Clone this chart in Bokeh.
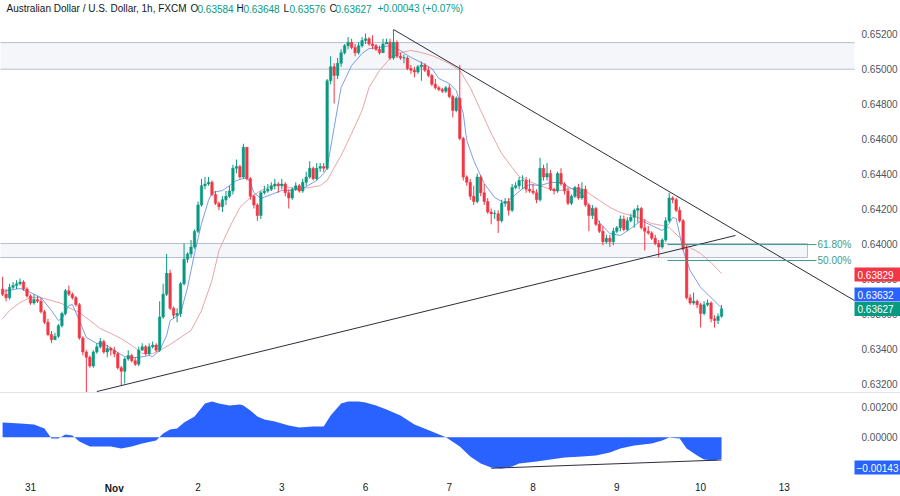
import numpy as np
from bokeh.plotting import figure
from bokeh.models import Range1d, FixedTicker, NumeralTickFormatter, ColumnDataSource, Label, Div, LinearAxis
from bokeh.layouts import column
from bokeh.embed import file_html
from bokeh.resources import INLINE
from bokeh.core.properties import value

# ---------------- data (AUD/USD 1h, FXCM) ----------------
bar_first = -8            # first bar, in trading hours from 31 Oct 00:00
first_open = 0.6374
closes = [0.6371, 0.6369, 0.6375, 0.6376, 0.6377, 0.6378, 0.6374, 0.6370,
          0.6366, 0.6368, 0.6367, 0.6361, 0.6355, 0.6348, 0.6345, 0.6347, 0.6353, 0.6360,
          0.6373, 0.6371, 0.6369, 0.6365, 0.6346, 0.6338, 0.6335, 0.6330, 0.6338, 0.6341,
          0.6344, 0.6338, 0.6340, 0.6339, 0.6337, 0.6329, 0.6327, 0.6334, 0.6336, 0.6333,
          0.6331, 0.6339, 0.6341, 0.6337, 0.6341, 0.6342, 0.6339, 0.6358, 0.6371, 0.6383,
          0.6363, 0.6359, 0.6360, 0.6377, 0.6391, 0.6394, 0.6398, 0.6407, 0.6422, 0.6433,
          0.6434, 0.6435, 0.6428, 0.6423, 0.6421, 0.6425, 0.6427, 0.6430, 0.6443, 0.6444,
          0.6438, 0.6455, 0.6437, 0.6427, 0.6422, 0.6416, 0.6429, 0.6430, 0.6431, 0.6433,
          0.6434, 0.6433, 0.6434, 0.6429, 0.6426, 0.6431, 0.6433, 0.6430, 0.6435, 0.6438,
          0.6443, 0.6437, 0.6443, 0.6444, 0.6443, 0.6493, 0.6501, 0.6496, 0.6503, 0.6509,
          0.6513, 0.6515, 0.6512, 0.6509, 0.6513, 0.6516, 0.6517, 0.6514, 0.6513, 0.6511,
          0.6509, 0.6514, 0.6515, 0.6506, 0.6515, 0.6507, 0.6506, 0.6506, 0.6500, 0.6499,
          0.6498, 0.6501, 0.6502, 0.6499, 0.6496, 0.6491, 0.6489, 0.6488, 0.6487, 0.6489,
          0.6484, 0.6476, 0.6483, 0.6460, 0.6438, 0.6435, 0.6427, 0.6424, 0.6438, 0.6429,
          0.6424, 0.6418, 0.6417, 0.6417, 0.6413, 0.6423, 0.6424, 0.6419, 0.6432, 0.6433,
          0.6436, 0.6436, 0.6431, 0.6430, 0.6429, 0.6425, 0.6443, 0.6438, 0.6440, 0.6431,
          0.6430, 0.6440, 0.6434, 0.6430, 0.6423, 0.6427, 0.6432, 0.6426, 0.6431, 0.6422,
          0.6416, 0.6420, 0.6411, 0.6407, 0.6401, 0.6403, 0.6401, 0.6407, 0.6409, 0.6414,
          0.6408, 0.6413, 0.6415, 0.6419, 0.6420, 0.6409, 0.6407, 0.6406, 0.6403, 0.6400,
          0.6398, 0.6402, 0.6413, 0.6426, 0.6425, 0.6419, 0.6413, 0.6397, 0.6369, 0.6366,
          0.6367, 0.6365, 0.6360, 0.6365, 0.6366, 0.6357, 0.6356, 0.63584, 0.63627]
highs = [0.6381, 0.6374, 0.6377, 0.6378, 0.6379, 0.6380, 0.6379, 0.6375,
         0.6371, 0.6371, 0.6370, 0.6369, 0.6362, 0.6357, 0.6350, 0.6349, 0.6354, 0.6361,
         0.6374, 0.6376, 0.6372, 0.6370, 0.6366, 0.6347, 0.6339, 0.6336, 0.6339, 0.6343,
         0.6346, 0.6345, 0.6342, 0.6341, 0.6341, 0.6338, 0.6330, 0.6335, 0.6339, 0.6337,
         0.6335, 0.6341, 0.6343, 0.6342, 0.6343, 0.6344, 0.6343, 0.6367, 0.6377, 0.6394,
         0.6385, 0.6364, 0.6363, 0.6378, 0.6400, 0.6395, 0.6402, 0.6408, 0.6424, 0.6437,
         0.6438, 0.6438, 0.6436, 0.6430, 0.6424, 0.6427, 0.6430, 0.6433, 0.6445, 0.6448,
         0.6445, 0.6457, 0.6455, 0.6438, 0.6428, 0.6423, 0.6430, 0.6433, 0.6434, 0.6435,
         0.6437, 0.6435, 0.6437, 0.6435, 0.6431, 0.6432, 0.6435, 0.6434, 0.6437, 0.6441,
         0.6447, 0.6444, 0.6446, 0.6446, 0.6446, 0.6494, 0.6507, 0.6503, 0.6506, 0.6511,
         0.6514, 0.6518, 0.6517, 0.6514, 0.6515, 0.6518, 0.6520, 0.6518, 0.6519, 0.6514,
         0.6513, 0.6517, 0.6517, 0.6517, 0.6522, 0.6516, 0.6509, 0.6508, 0.6507, 0.6502,
         0.6501, 0.6502, 0.6504, 0.6503, 0.6501, 0.6497, 0.6494, 0.6490, 0.6489, 0.6490,
         0.6491, 0.6485, 0.6484, 0.6502, 0.6461, 0.6439, 0.6437, 0.6433, 0.6440, 0.6439,
         0.6434, 0.6426, 0.6420, 0.6419, 0.6419, 0.6425, 0.6426, 0.6426, 0.6434, 0.6435,
         0.6438, 0.6439, 0.6438, 0.6437, 0.6434, 0.6431, 0.6449, 0.6445, 0.6446, 0.6442,
         0.6432, 0.6441, 0.6443, 0.6435, 0.6432, 0.6428, 0.6433, 0.6434, 0.6435, 0.6433,
         0.6423, 0.6422, 0.6421, 0.6413, 0.6410, 0.6405, 0.6405, 0.6409, 0.6410, 0.6416,
         0.6416, 0.6415, 0.6417, 0.6420, 0.6422, 0.6421, 0.6414, 0.6410, 0.6407, 0.6405,
         0.6402, 0.6403, 0.6415, 0.6429, 0.6427, 0.6426, 0.6421, 0.6414, 0.6399, 0.6371,
         0.6372, 0.6368, 0.6366, 0.6367, 0.6368, 0.6367, 0.6359, 0.6360, 0.63648]
lows = [0.6370, 0.6367, 0.6368, 0.6374, 0.6374, 0.6376, 0.6373, 0.6369,
        0.6365, 0.6365, 0.6366, 0.6360, 0.6354, 0.6347, 0.6343, 0.6345, 0.6346, 0.6352,
        0.6359, 0.6370, 0.6368, 0.6364, 0.6345, 0.6336, 0.6315, 0.6329, 0.6329, 0.6337,
        0.6340, 0.6337, 0.6335, 0.6336, 0.6335, 0.6328, 0.6319, 0.6320, 0.6333, 0.6332,
        0.6330, 0.6330, 0.6339, 0.6336, 0.6336, 0.6340, 0.6338, 0.6338, 0.6357, 0.6370,
        0.6362, 0.6357, 0.6355, 0.6358, 0.6376, 0.6389, 0.6392, 0.6397, 0.6406, 0.6421,
        0.6431, 0.6433, 0.6427, 0.6422, 0.6419, 0.6418, 0.6422, 0.6426, 0.6428, 0.6440,
        0.6437, 0.6437, 0.6436, 0.6425, 0.6420, 0.6413, 0.6414, 0.6428, 0.6429, 0.6430,
        0.6431, 0.6429, 0.6431, 0.6427, 0.6420, 0.6425, 0.6430, 0.6429, 0.6429, 0.6433,
        0.6437, 0.6436, 0.6436, 0.6441, 0.6441, 0.6442, 0.6491, 0.6480, 0.6494, 0.6501,
        0.6508, 0.6511, 0.6511, 0.6507, 0.6508, 0.6512, 0.6514, 0.6513, 0.6511, 0.6510,
        0.6508, 0.6509, 0.6514, 0.6505, 0.6505, 0.6506, 0.6505, 0.6503, 0.6499, 0.6497,
        0.6495, 0.6497, 0.6493, 0.6498, 0.6495, 0.6490, 0.6488, 0.6487, 0.6486, 0.6486,
        0.6483, 0.6472, 0.6475, 0.6459, 0.6436, 0.6433, 0.6425, 0.6422, 0.6423, 0.6427,
        0.6422, 0.6417, 0.6411, 0.6414, 0.6406, 0.6412, 0.6421, 0.6416, 0.6418, 0.6431,
        0.6431, 0.6431, 0.6429, 0.6429, 0.6428, 0.6423, 0.6424, 0.6436, 0.6436, 0.6430,
        0.6428, 0.6429, 0.6433, 0.6428, 0.6422, 0.6422, 0.6426, 0.6425, 0.6425, 0.6421,
        0.6407, 0.6414, 0.6410, 0.6406, 0.6399, 0.6400, 0.6398, 0.6399, 0.6406, 0.6407,
        0.6407, 0.6407, 0.6412, 0.6409, 0.6412, 0.6408, 0.6396, 0.6405, 0.6402, 0.6399,
        0.6392, 0.6397, 0.6401, 0.6412, 0.6423, 0.6418, 0.6412, 0.6396, 0.6368, 0.6365,
        0.6365, 0.6363, 0.6352, 0.6359, 0.6364, 0.6355, 0.6352, 0.6354, 0.63576]

fast_ma_idx = [-8, -3, 0, 3, 6, 8, 9, 11, 12, 14, 16, 19, 20, 22, 24, 27, 29, 31, 34, 35,
               37, 39, 40, 43, 45, 47, 49, 51, 52, 55, 57, 59, 62, 63, 64, 66, 69, 72, 74, 78,
               82, 84, 85, 87, 89, 92, 95, 97, 100, 103, 106, 109, 112, 115, 117, 120, 122, 124, 125, 127,
               130, 133, 136, 138, 141, 143, 146, 149, 152, 155, 158, 160, 163, 166, 169, 172, 175, 178, 181, 183,
               184, 185, 187, 189, 192, 195, 198]
fast_ma = [0.63726, 0.63743, 0.6372, 0.63691, 0.63617, 0.6356, 0.63571, 0.63646, 0.63651, 0.6356,
           0.63463, 0.63429, 0.63429, 0.63417, 0.63389, 0.63354, 0.63349, 0.63349, 0.6336, 0.63354,
           0.63389, 0.63474, 0.6356, 0.636, 0.63749, 0.63943, 0.64114, 0.64246, 0.64291, 0.64303,
           0.64331, 0.6436, 0.64377, 0.64349, 0.64291, 0.64257, 0.6428, 0.64303, 0.64303, 0.64314,
           0.6436, 0.644, 0.64434, 0.64663, 0.64891, 0.65017, 0.65086, 0.65114, 0.6512, 0.65131,
           0.65103, 0.65063, 0.65034, 0.6500, 0.64943, 0.64914, 0.64874, 0.64743, 0.64589, 0.64474,
           0.64343, 0.64263, 0.64229, 0.64263, 0.64314, 0.64337, 0.64331, 0.64349, 0.64349, 0.64314,
           0.64286, 0.64217, 0.6412, 0.64057, 0.64046, 0.64086, 0.64131, 0.64103, 0.64074, 0.64114,
           0.64149, 0.64143, 0.6396, 0.63846, 0.63749, 0.63691, 0.63632]
slow_ma_idx = [-8, -6, -3, 0, 3, 6, 9, 11, 14, 17, 20, 23, 26, 29, 31, 32, 35, 37, 40, 43,
               46, 49, 52, 54, 57, 60, 63, 66, 69, 72, 74, 77, 80, 83, 85, 87, 89, 92, 95, 97,
               100, 103, 106, 109, 112, 115, 117, 120, 123, 126, 129, 132, 135, 138, 140, 143, 146, 149, 152, 155,
               158, 160, 163, 166, 169, 172, 175, 178, 181, 183, 186, 189, 192, 195, 198]
slow_ma = [0.63571, 0.63617, 0.63663, 0.63691, 0.63691, 0.63674, 0.63657, 0.63634, 0.63606, 0.6356,
           0.63514, 0.63486, 0.63457, 0.63417, 0.63389, 0.63371, 0.63371, 0.63389, 0.63423, 0.63463,
           0.63503, 0.63617, 0.63789, 0.6396, 0.64091, 0.64206, 0.64263, 0.64303, 0.64326, 0.64337,
           0.6432, 0.64314, 0.6432, 0.64331, 0.6436, 0.64434, 0.64503, 0.64629, 0.6476, 0.64891,
           0.64989, 0.65057, 0.65091, 0.65103, 0.65091, 0.65074, 0.65057, 0.65029, 0.64989, 0.64891,
           0.6476, 0.64629, 0.64514, 0.64434, 0.64383, 0.64354, 0.64331, 0.64309, 0.64303, 0.64314,
           0.64314, 0.64286, 0.64246, 0.64206, 0.64177, 0.6416, 0.64143, 0.64114, 0.64103, 0.64091,
           0.64034, 0.63977, 0.63943, 0.63891, 0.63829]
osc_idx = [-8, -3, 1, 4, 6, 8, 10, 12, 14, 17, 23, 26, 29, 32, 36, 38, 40, 42, 44, 47,
           50, 52, 54, 57, 60, 61, 63, 65, 67, 70, 74, 77, 81, 84, 86, 89, 91, 94, 96, 99,
           102, 106, 110, 115, 119, 120, 123, 126, 129, 132, 135, 138, 140, 145, 149, 153, 158, 162, 166, 169,
           173, 178, 181, 183, 186, 188, 191, 193, 196, 198]
osc = [0.00098, 0.00091, 0.00085, 0.00058, -0.00009, -0.00009, 0.00018, 0.00011, -0.00029, -0.00062,
       -0.00062, -0.00075, -0.00062, -0.00042, -0.00022, 0.00025, 0.00051, 0.00058, 0.00098, 0.00138,
       0.00225, 0.00238, 0.00225, 0.00211, 0.00218, 0.00211, 0.00178, 0.00138, 0.00118, 0.00105,
       0.00078, 0.00065, 0.00071, 0.00071, 0.00145, 0.00225, 0.00238, 0.00238, 0.00231, 0.00211,
       0.00185, 0.00145, 0.00085, 0.00038, 0.0, -0.00015, -0.00062, -0.00129, -0.00175, -0.00202,
       -0.00209, -0.00195, -0.00175, -0.00162, -0.00149, -0.00135, -0.00129, -0.00122, -0.00102, -0.00075,
       -0.00055, -0.00042, -0.00022, -0.00002, -0.00009, -0.00075, -0.00122, -0.00149, -0.00155, -0.00143]

day_ticks = [0, 24, 48, 72, 96, 120, 144, 168, 192, 216]
day_labels = ["31", "Nov", "2", "3", "6", "7", "8", "9", "10", "13"]
month_start = "Nov"
price_ticks = [0.632, 0.634, 0.636, 0.638, 0.640, 0.642, 0.644, 0.646, 0.648, 0.650, 0.652, 0.654]
osc_ticks = [-0.002, 0.0, 0.002]

zone_upper = (0.64996, 0.65148)
zone_lower = (0.63920, 0.64000)
fib_levels = [0.63994, 0.63903]
fib_labels = ["61.80%", "50.00%"]
fib_x = [182.5, 225.2]
trend_down_x = [104, 236.1]
trend_down_y = [0.65223, 0.63674]
trend_up_x = [19, 202]
trend_up_y = [0.63154, 0.64046]
osc_line_x = [132, 198]
osc_line_y = [-0.00207, -0.00152]

# ---------------- geometry / style ----------------
W = 900
PX_BAR = 3.49
X0 = -8.6
X1 = X0 + W / PX_BAR
PLOT_RIGHT_PX = 854          # right edge of the drawing area (price scale to the right)
TOP_H = 392
PX_PRICE = 17500.0
Y_TOP = 0.653886
Y_BOT = Y_TOP - TOP_H / PX_PRICE
BOT_H = 103                  # oscillator panel incl. date scale
PX_OSC = 15000.0
O_TOP = 0.002913
O_BOT = O_TOP - BOT_H / PX_OSC
O_AXIS = O_TOP - 79 / PX_OSC  # where the date scale sits

UP = "#089981"
DN = "#f23645"
BLUE = "#2962ff"
DARK = "#131722"
AXIS_TXT = "#50535e"
ZONE_FILL = "#a9b9d9"
ZONE_LINE = "#b4bfd2"
FONT = "Liberation Sans"
TAG_PAD = dict(left=3, right=12, top=3, bottom=3)


def px_x(px):
    return X0 + px / PX_BAR


def px_y(py):
    return Y_TOP - py / PX_PRICE


X_EDGE = px_x(PLOT_RIGHT_PX)

n = len(closes)
idx = np.arange(bar_first, bar_first + n)
opens = [first_open] + closes[:-1]
o = np.array(opens)
c = np.array(closes)
up = c >= o
colors = [UP if u else DN for u in up]
body_top = np.maximum(o, c)
body_bot = np.minimum(o, c)
body_top = np.where(body_top - body_bot < 0.00002, body_bot + 0.00002, body_top)
src = ColumnDataSource(dict(x=idx, o=o, c=c, h=highs, l=lows, top=body_top, bot=body_bot, col=colors))


def style_axis(ax, size="10px", color=AXIS_TXT, standoff=7):
    ax.axis_line_color = None
    ax.major_tick_line_color = None
    ax.minor_tick_line_color = None
    ax.major_tick_in = 0
    ax.major_tick_out = 0
    ax.major_label_standoff = standoff
    ax.major_label_text_font = FONT
    ax.major_label_text_font_size = size
    ax.major_label_text_color = color


# ---------------- price panel ----------------
p = figure(width=W, height=TOP_H, x_range=Range1d(X0, X1), y_range=Range1d(Y_BOT, Y_TOP),
           output_backend="svg", toolbar_location=None,
           x_axis_location=None, y_axis_location=None,
           min_border=0)
p.outline_line_color = None
p.grid.visible = False
p.background_fill_color = "white"
p.border_fill_color = "white"

ya = LinearAxis(fixed_location=X_EDGE, ticker=FixedTicker(ticks=price_ticks),
                formatter=NumeralTickFormatter(format="0.00000"))
style_axis(ya)
p.add_layout(ya, "right")

# zones: upper one runs into the price scale (open on the right), lower one is a closed box
p.quad(left=[X0 - 2], right=[X_EDGE], bottom=[zone_upper[0]], top=[zone_upper[1]],
       fill_color=ZONE_FILL, fill_alpha=0.12, line_color=None)
for lvl in zone_upper:
    p.line([X0 - 2, X_EDGE], [lvl, lvl], line_color=ZONE_LINE, line_width=1)
p.quad(left=[X0 - 2], right=[px_x(807)], bottom=[zone_lower[0]], top=[zone_lower[1]],
       fill_color=ZONE_FILL, fill_alpha=0.12, line_color=ZONE_LINE, line_width=1)

# moving averages
p.line(slow_ma_idx, slow_ma, line_color="#e8999f", line_width=1, line_alpha=0.9)
p.line(fast_ma_idx, fast_ma, line_color="#6b94e6", line_width=1, line_alpha=0.9)

# candles
p.segment(x0="x", y0="l", x1="x", y1="h", line_color="col", line_width=1, source=src)
p.vbar(x="x", width=0.72, top="top", bottom="bot", fill_color="col", line_color="col",
       line_width=0.5, source=src)

# trend lines
p.line(trend_down_x, trend_down_y, line_color="#2a2e39", line_width=1)
p.line(trend_up_x, trend_up_y, line_color="#2a2e39", line_width=1)

# fibonacci levels
for lvl, lab in zip(fib_levels, fib_labels):
    p.line(fib_x, [lvl, lvl], line_color="#3d9d8d", line_width=1)
    p.text(x=[px_x(817)], y=[lvl], text=[lab], text_font=value(FONT), text_font_size="10px",
           text_color="#3d9d8d", text_baseline="middle", text_align="left")

# header
last_o, last_h, last_l, last_c = opens[-1], highs[-1], lows[-1], closes[-1]
chg = last_c - last_o
pct = chg / last_o * 100
segments = [
    (6, "Australian Dollar / U.S. Dollar, 1h, FXCM", DARK),
    (190, "O", DARK), (197, f"{last_o:.5f}", UP),
    (236, "H", DARK), (243, f"{last_h:.5f}", UP),
    (283, "L", DARK), (289, f"{last_l:.5f}", UP),
    (329, "C", DARK), (335, f"{last_c:.5f}", UP),
    (377, f"{chg:+.5f} ({pct:+.2f}%)", UP),
]
for px, txt, col in segments:
    p.text(x=[px_x(px)], y=[px_y(8)], text=[txt], text_font=value(FONT), text_font_size="10px",
           text_color=col, text_baseline="middle", text_align="left")

# price tags on the scale
tags = [(slow_ma[-1], px_y(274), DN), (fast_ma[-1], px_y(294), BLUE), (closes[-1], px_y(308.5), UP)]
for val, ypos, col in tags:
    p.add_layout(Label(x=X_EDGE, y=ypos, text=f"{val:.5f}", text_color="white", text_font=FONT,
                       text_font_size="10px", text_baseline="middle", text_align="left",
                       background_fill_color=col, padding=TAG_PAD))

# ---------------- oscillator panel ----------------
q = figure(width=W, height=BOT_H, x_range=p.x_range, y_range=Range1d(O_BOT, O_TOP),
           output_backend="svg", toolbar_location=None,
           x_axis_location=None, y_axis_location=None, min_border=0)
q.outline_line_color = None
q.grid.visible = False
q.background_fill_color = "white"
q.border_fill_color = "white"
q.varea(x=osc_idx, y1=[0.0] * len(osc), y2=osc, fill_color=BLUE, fill_alpha=1.0)
q.line(osc_line_x, osc_line_y, line_color="#2a2e39", line_width=1)

qa = LinearAxis(fixed_location=X_EDGE, ticker=FixedTicker(ticks=osc_ticks),
                formatter=NumeralTickFormatter(format="0.00000"))
style_axis(qa)
q.add_layout(qa, "right")

plain = {t: ("" if lab == month_start else lab) for t, lab in zip(day_ticks, day_labels)}
xa = LinearAxis(fixed_location=O_AXIS, ticker=FixedTicker(ticks=day_ticks), major_label_overrides=plain)
style_axis(xa, size="10px", color=DARK, standoff=10)
q.add_layout(xa, "below")
month_ticks = [t for t, lab in zip(day_ticks, day_labels) if lab == month_start]
xb = LinearAxis(fixed_location=O_AXIS, ticker=FixedTicker(ticks=month_ticks),
                major_label_overrides={t: month_start for t in month_ticks})
style_axis(xb, size="10px", color=DARK, standoff=10)
xb.major_label_text_font_style = "bold"
q.add_layout(xb, "below")

q.add_layout(Label(x=X_EDGE, y=O_TOP - (467 - 393) / PX_OSC, text=f"{osc[-1]:.5f}".replace("-", "\u2212"),
                   text_color="white", text_font=FONT, text_font_size="10px",
                   text_baseline="middle", text_align="left",
                   background_fill_color=BLUE, padding=dict(left=2, right=8, top=3, bottom=3)))

sep = Div(text="", width=W, height=1, styles={"background-color": "#e0e3eb"}, margin=(0, 0, 0, 0))

layout = column(p, sep, q, spacing=0)
html = file_html(layout, INLINE, "AUD/USD")
html = html.replace("<head>", "<head><style>html,body{margin:0;padding:0;overflow:hidden;background:#fff;}</style>", 1)
open("out.html", "w").write(html)
